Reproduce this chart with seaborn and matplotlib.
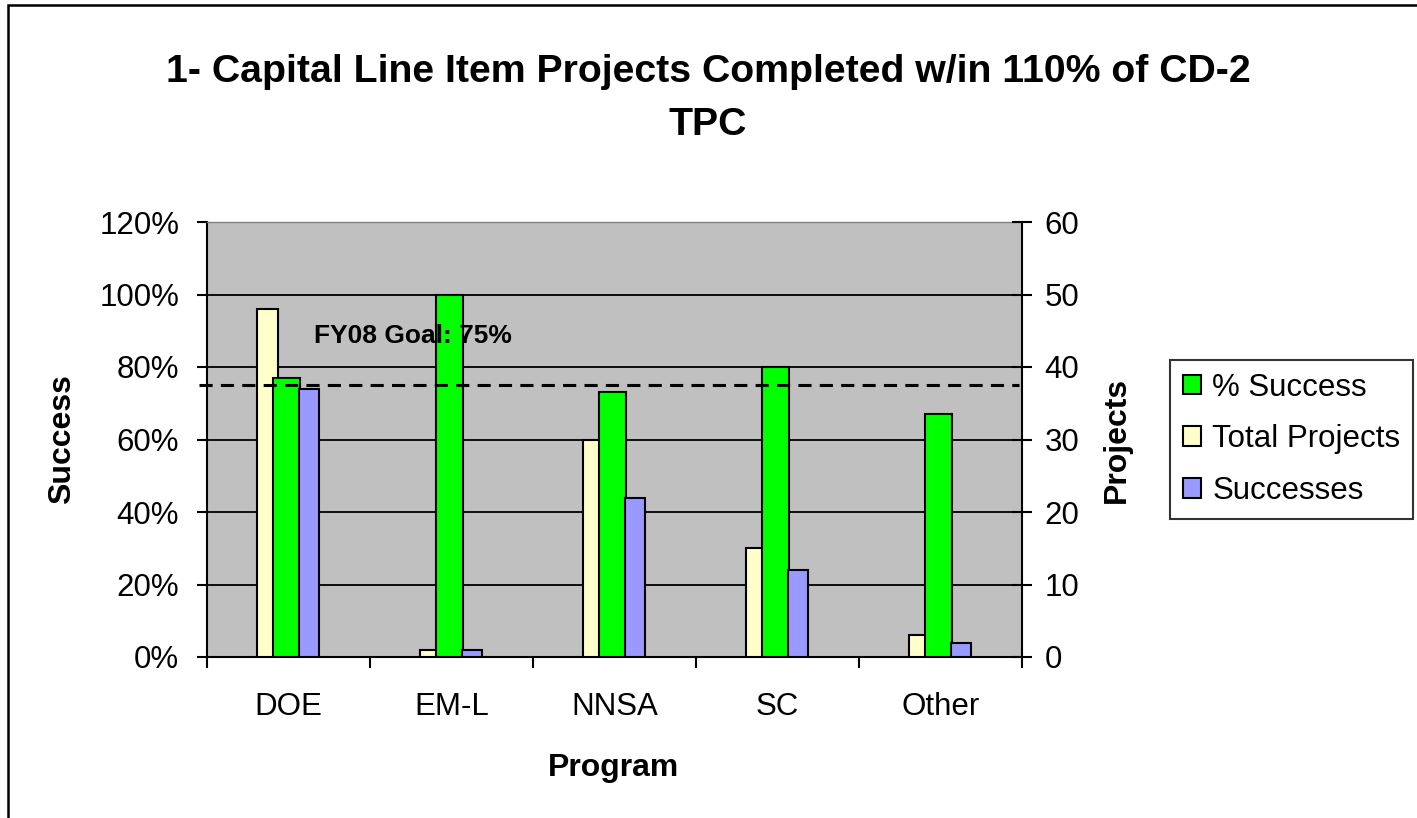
import numpy as np
import pandas as pd
import seaborn as sns
import matplotlib.pyplot as plt
from matplotlib.patches import Patch, Rectangle

# chart data
programs = ['DOE', 'EM-L', 'NNSA', 'SC', 'Other']
pct_success = [0.77, 1.00, 0.73, 0.80, 0.67]   # left axis, share of projects
total_projects = [48, 1, 30, 15, 3]             # right axis
successes = [37, 1, 22, 12, 2]                  # right axis
goal = 0.75
goal_label = 'FY08 Goal: 75%'
pct_ticks = [0, 0.2, 0.4, 0.6, 0.8, 1.0, 1.2]
pct_labels = ['0%', '20%', '40%', '60%', '80%', '100%', '120%']
proj_ticks = [0, 10, 20, 30, 40, 50, 60]

title = '1- Capital Line Item Projects Completed w/in 110% of CD-2\nTPC'

# colours (old Excel palette)
c_green = '#00FF00'
c_yellow = '#FFFFCC'
c_blue = '#9999FF'
c_plot_bg = '#C0C0C0'

plt.rcParams['font.family'] = ['Liberation Sans', 'DejaVu Sans']

W, H = 1417, 818
fig = plt.figure(figsize=(W / 100, H / 100), dpi=100)
fig.patch.set_facecolor('white')

# plot area in pixels: x 207..1022, y 222..657
ax = fig.add_axes([207 / W, 1 - 657 / H, (1022 - 207) / W, (657 - 222) / H])
ax.set_facecolor(c_plot_bg)
ax_tot = ax.twinx()   # yellow bars, behind the green ones
ax_pct = ax.twinx()   # green bars
ax_suc = ax.twinx()   # blue bars, right axis shown

df = pd.DataFrame({
    'program': programs,
    'pos': np.arange(len(programs)),
    'pct': pct_success,
    'total': total_projects,
    'succ': successes,
})
df['pos_tot'] = df['pos'] - 0.13
df['pos_suc'] = df['pos'] + 0.125
df['pos_pct'] = df['pos'] - 0.01

bar_kw = dict(native_scale=True, errorbar=None, saturation=1,
              edgecolor='black', linewidth=1.5)
sns.barplot(data=df, x='pos_tot', y='total', width=0.13, color=c_yellow, ax=ax_tot, **bar_kw)
sns.barplot(data=df, x='pos_pct', y='pct', width=0.165, color=c_green, ax=ax_pct, **bar_kw)
sns.barplot(data=df, x='pos_suc', y='succ', width=0.125, color=c_blue, ax=ax_suc, **bar_kw)

# goal line and its note
ax_pct.plot([-0.55, 4.48], [goal, goal], color='black', lw=2.2,
            dashes=(4.3, 2.7), clip_on=False, zorder=5)
ax_pct.text(0.156, 0.866, goal_label, fontsize=19, fontweight='bold',
            ha='left', va='baseline', zorder=6)

# scales
for a in (ax_tot, ax_suc):
    a.set_ylim(0, 60)
ax.set_ylim(0, 1.2)
ax_pct.set_ylim(0, 1.2)
ax.set_xlim(-0.5, 4.5)

for a in (ax_tot, ax_pct, ax_suc):
    a.set_xlabel('')
    a.set_ylabel('')
    for s in a.spines.values():
        s.set_visible(False)
for a in (ax_tot, ax_pct):
    a.set_yticks([])

# left axis
ax.set_yticks(pct_ticks)
ax.set_yticklabels(pct_labels)
ax.yaxis.grid(True, color='black', lw=1.3)
ax.set_axisbelow(True)
ax.tick_params(axis='y', direction='out', length=7, width=1.5, pad=13,
               labelsize=22.5, colors='black')
ax.spines['right'].set_visible(False)
ax.spines['top'].set_color('#808080')
ax.spines['top'].set_linewidth(1)
ax.spines['left'].set_linewidth(1.5)
ax.spines['bottom'].set_linewidth(1.5)

# category axis: ticks between groups, labels centred
ax.set_xticks(np.arange(-0.5, len(programs), 1))
ax.set_xticklabels([])
ax.set_xticks(df['pos'], minor=True)
ax.set_xticklabels(programs, minor=True)
ax.tick_params(axis='x', which='major', direction='out', length=8, width=1.5)
ax.tick_params(axis='x', which='minor', length=0, pad=25, labelsize=22.5)

# right axis
ax_suc.set_yticks(proj_ticks)
ax_suc.set_yticklabels([str(t) for t in proj_ticks])
ax_suc.spines['right'].set_visible(True)
ax_suc.spines['right'].set_linewidth(1.5)
ax_suc.tick_params(axis='y', direction='inout', length=14.4, width=1.5, pad=9,
                   labelsize=22.5, colors='black')

# texts
fig.text(708 / W, 1 - 135 / H, title, ha='center', va='baseline',
         fontsize=28.3, fontweight='bold', linespacing=1.6)
mid_y = 0.5 * ((1 - 657 / H) + (1 - 222 / H))
fig.text(62 / W, mid_y, 'Success', rotation=90,
         ha='center', va='center', fontsize=23, fontweight='bold')
fig.text(1117 / W, mid_y, 'Projects', rotation=90,
         ha='center', va='center', fontsize=23, fontweight='bold')
fig.text(614 / W, 1 - 776 / H, 'Program', ha='center', va='baseline',
         fontsize=23, fontweight='bold')

# legend
handles = [Patch(facecolor=c_green, edgecolor='black', lw=1.5, label='% Success'),
           Patch(facecolor=c_yellow, edgecolor='black', lw=1.5, label='Total Projects'),
           Patch(facecolor=c_blue, edgecolor='black', lw=1.5, label='Successes')]
leg = fig.legend(handles=handles, loc='upper left',
                 bbox_to_anchor=(1170 / W, 1 - 360 / H), fontsize=22.5,
                 frameon=True, fancybox=False, shadow=False, borderaxespad=0,
                 handlelength=0.6, handleheight=0.6, handletextpad=0.35,
                 borderpad=0.4, labelspacing=0.7)
leg.get_frame().set_edgecolor('black')
leg.get_frame().set_linewidth(1.5)

# outer chart border (only top and left edges are inside the picture)
fig.add_artist(Rectangle((8 / W, -0.2), 1.2, 1 - 5 / H + 0.2, transform=fig.transFigure,
                         fill=False, edgecolor='black', lw=1.8))

fig.savefig('out.png', dpi=100)
